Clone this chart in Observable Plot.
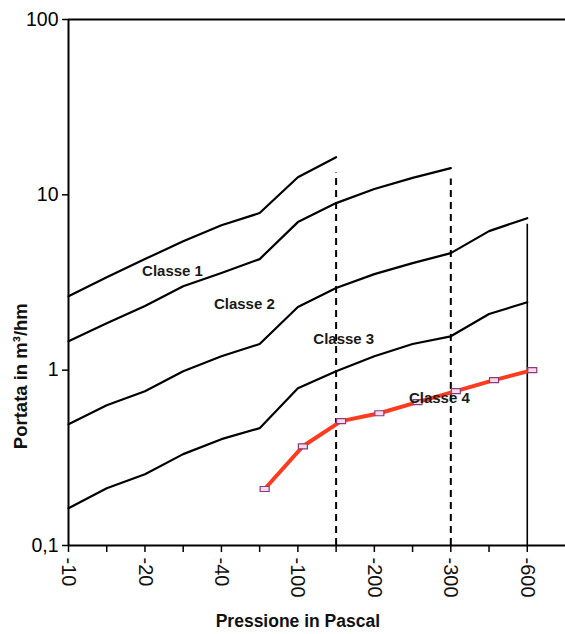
<!DOCTYPE html>
<html>
<head>
<meta charset="utf-8">
<script src="https://cdn.jsdelivr.net/npm/d3@7"></script>
<script src="https://cdn.jsdelivr.net/npm/@observablehq/plot@0.6"></script>
<style>
  html, body { margin: 0; padding: 0; background: #fff; }
  #chart svg { display: block; }
</style>
</head>
<body>
<div id="chart"></div>
<script>
// Category tick labels (positions 0..12 along the pressure axis)
const tickLabels = ["-10", "", "-20", "", "-40", "", "-100", "", "-200", "", "-300", "", "-600"];
const yTicks = [0.1, 1, 10, 100];

// Curves (values in m3/hm at each tick position)
const classe1 = [2.64, 3.39, 4.30, 5.44, 6.71, 7.87, 12.6, 16.4];
const classe2 = [1.46, 1.85, 2.32, 3.01, 3.58, 4.30, 6.99, 8.97, 10.8, 12.5, 14.2];
const classe3 = [0.492, 0.631, 0.759, 0.987, 1.20, 1.41, 2.29, 2.94, 3.53, 4.08, 4.65, 6.21, 7.36];
const classe4 = [0.163, 0.212, 0.255, 0.332, 0.404, 0.467, 0.789, 0.987, 1.20, 1.41, 1.56, 2.09, 2.44];

// Measured series (red), starting at position 5
const measuredStart = 5;
const measured = [0.21, 0.368, 0.512, 0.568, 0.657, 0.759, 0.877, 1.0];

// Vertical reference lines: position, top value, dashed?
const vPos = [7, 10, 12];
const vTop = [13.3, 12.3, 6.8];
const vDashed = [true, true, false];

// Curve labels
const labelText = ["Classe 1", "Classe 2", "Classe 3", "Classe 4"];
const labelX = [2.72, 4.6, 7.2, 9.7];
const labelY = [3.67, 2.38, 1.50, 0.692];

const curves = [classe1, classe2, classe3, classe4].flatMap((arr, k) =>
  arr.map((v, i) => ({series: k, x: i, y: v})));
const meas = measured.map((v, i) => ({x: measuredStart + i, y: v}));
const vlines = vPos.map((p, i) => ({x: p, y1: 0.1, y2: vTop[i], dashed: vDashed[i]}));
const labels = labelText.map((t, i) => ({text: t, x: labelX[i], y: labelY[i]}));
const xt = tickLabels.map((t, i) => ({x: i, t}));

const rectSymbol = {
  draw(context, size) {
    const w = 4.5, h = 2.5;
    context.moveTo(-w, -h);
    context.lineTo(w, -h);
    context.lineTo(w, h);
    context.lineTo(-w, h);
    context.closePath();
  }
};

const font = "'Liberation Sans', Arial, Helvetica, sans-serif";

const chart = Plot.plot({
  width: 565,
  height: 634,
  marginTop: 19,
  marginLeft: 68,
  marginRight: 0,
  marginBottom: 89,
  style: {fontFamily: font, background: "#fff", color: "#000"},
  x: {type: "linear", domain: [0, 13], axis: null},
  y: {type: "log", domain: [0.1, 100], axis: null},
  marks: [
    Plot.axisY({
      ticks: yTicks, tickSize: 6, tickPadding: 4, fontSize: 19.5,
      tickFormat: d => d === 0.1 ? "0,1" : String(d), label: null, strokeWidth: 1.5
    }),
    Plot.axisX({ticks: d3.range(0, 13), tickSize: 7, tickFormat: () => "", label: null, strokeWidth: 1.5}),
    Plot.text(xt, {
      x: "x", y: () => 0.1, text: "t", rotate: 90, textAnchor: "start",
      lineAnchor: "middle", dy: 12, fontSize: 20, fill: "#111"
    }),
    // frame (left, bottom, top)
    Plot.ruleX([0], {stroke: "#000", strokeWidth: 2}),
    Plot.ruleY([0.1], {stroke: "#000", strokeWidth: 2}),
    Plot.ruleY([100], {stroke: "#000", strokeWidth: 2}),
    // vertical reference lines
    Plot.ruleX(vlines.filter(d => d.dashed), {x: "x", y1: "y1", y2: "y2", stroke: "#000", strokeWidth: 2, strokeDasharray: "7,5"}),
    Plot.ruleX(vlines.filter(d => !d.dashed), {x: "x", y1: "y1", y2: "y2", stroke: "#000", strokeWidth: 1.6}),
    // class curves
    Plot.line(curves, {x: "x", y: "y", z: "series", stroke: "#000", strokeWidth: 2.2}),
    // measured series
    Plot.line(meas, {x: "x", y: "y", dx: 5, stroke: "#ff3b1f", strokeWidth: 4, strokeLinejoin: "round"}),
    Plot.dot(meas, {x: "x", y: "y", dx: 5, symbol: rectSymbol, r: 3, fill: "#f8dbe6", stroke: "#8b3a7f", strokeWidth: 1.2}),
    // curve labels
    Plot.text(labels, {x: "x", y: "y", text: "text", fontSize: 15, fontWeight: "bold", fill: "#1a1a1a"}),
    // axis titles
    Plot.text(["Pressione in Pascal"], {frameAnchor: "bottom", x: 6.0, dy: 81, textAnchor: "middle", text: d => d, fontSize: 17.5, fontWeight: "bold", fill: "#111"}),
    Plot.text(["Portata in m³/hm"], {frameAnchor: "left", y: 1, dx: -47, dy: 6, textAnchor: "middle", rotate: -90, text: d => d, fontSize: 18.5, fontWeight: "bold", fill: "#111"})
  ]
});

document.getElementById("chart").appendChild(chart);
</script>
</body>
</html>
